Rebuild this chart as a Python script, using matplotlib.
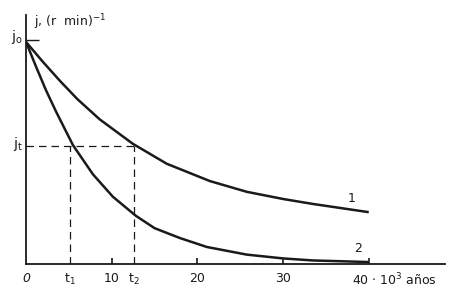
import matplotlib
matplotlib.use("Agg")
import matplotlib.pyplot as plt

# values (t in 10^3 years, j relative to j0 = 1)
t1_curve = [0, 2.0, 4.0, 6.0, 8.6, 12.47, 16.43, 21.45, 25.76, 30.0, 33.45, 39.86]
j1_curve = [0.99, 0.90, 0.815, 0.735, 0.645, 0.536, 0.447, 0.37, 0.322, 0.29, 0.268, 0.232]

t2_curve = [0, 1.17, 2.33, 3.50, 5.48, 7.81, 10.14, 12.82, 15.0, 17.95, 21.10, 25.76,
            30.0, 33.45, 39.86]
j2_curve = [0.99, 0.88, 0.775, 0.68, 0.53, 0.40, 0.30, 0.215, 0.16, 0.116, 0.076, 0.042,
            0.025, 0.016, 0.009]

j0 = 1.0
jt = 0.527
t1 = 5.13
t2 = 12.6

xticks = [10, 20, 30, 40]

plt.rcParams['font.family'] = ['DejaVu Sans']
ink = '#1a1a1a'

fig = plt.figure(figsize=(4.5, 2.95), dpi=100)
ax = fig.add_axes([0.0578, 0.105, 0.931, 0.844])

ax.plot(t1_curve, j1_curve, color=ink, lw=1.8, solid_joinstyle='round')
ax.plot(t2_curve, j2_curve, color=ink, lw=1.8, solid_joinstyle='round')

# dashed construction lines
ax.plot([0, t2], [jt, jt], color=ink, lw=0.9, dashes=(6, 4))
ax.plot([t1, t1], [0, jt], color=ink, lw=0.9, dashes=(6, 4))
ax.plot([t2, t2], [0, jt], color=ink, lw=0.9, dashes=(6, 4))

ax.set_xlim(0, 48.9)
ax.set_ylim(0, 1.11)

for s in ['top', 'right']:
    ax.spines[s].set_visible(False)
for s in ['left', 'bottom']:
    ax.spines[s].set_color(ink)
    ax.spines[s].set_linewidth(1.3)

ax.set_xticks(xticks)
ax.set_xticklabels([])
ax.tick_params(axis='x', direction='in', length=4, width=1.2, color=ink)
ax.set_yticks([j0])
ax.set_yticklabels([])
ax.tick_params(axis='y', direction='in', length=9, width=1.0, color=ink)

fs = 9
lab_y = -0.035
ax.text(0, lab_y, '0', ha='center', va='top', fontsize=fs, style='italic', color=ink)
ax.text(t1, lab_y, r'$\mathregular{t_1}$', ha='center', va='top', fontsize=fs, color=ink)
ax.text(10, lab_y, '10', ha='center', va='top', fontsize=fs, color=ink)
ax.text(t2, lab_y, r'$\mathregular{t_2}$', ha='center', va='top', fontsize=fs, color=ink)
ax.text(20, lab_y, '20', ha='center', va='top', fontsize=fs, color=ink)
ax.text(30, lab_y, '30', ha='center', va='top', fontsize=fs, color=ink)
ax.text(38.1, lab_y, r'40 $\cdot$ 10$^{\mathregular{3}}$ años', ha='left', va='top',
        fontsize=fs, color=ink)

ax.text(-0.4, j0 + 0.01, r'$\mathregular{j_o}$', ha='right', va='center', fontsize=fs + 1, color=ink)
ax.text(-0.4, jt + 0.01, r'$\mathregular{j_t}$', ha='right', va='center', fontsize=fs + 1, color=ink)
ax.text(0.9, 1.08, r'j, (r  min)$^{\mathregular{-1}}$', ha='left', va='center',
        fontsize=fs, color=ink)

ax.text(38.0, 0.29, '1', ha='center', va='center', fontsize=fs, color=ink)
ax.text(38.7, 0.07, '2', ha='center', va='center', fontsize=fs, color=ink)

fig.savefig('out.png', dpi=100)
